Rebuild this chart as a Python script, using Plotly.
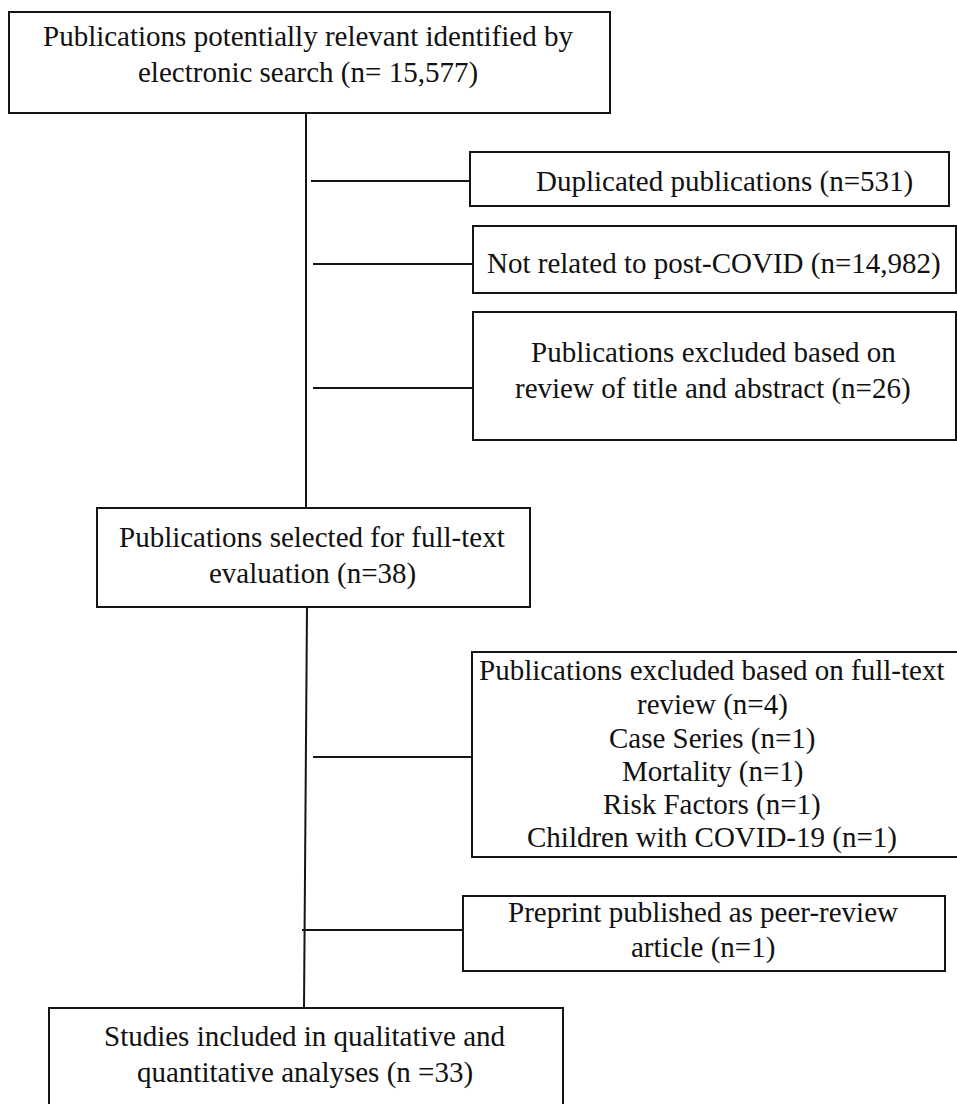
import plotly.graph_objects as go

# ---- data: flowchart content ----
stage_names = [
    "Publications potentially relevant identified by|electronic search",
    "Duplicated publications",
    "Not related to post-COVID",
    "Publications excluded based on|review of title and abstract",
    "Publications selected for full-text|evaluation",
    "Publications excluded based on full-text|review",
    "Preprint published as peer-review|article",
    "Studies included in qualitative and|quantitative analyses",
]
stage_counts = ["n= 15,577", "n=531", "n=14,982", "n=26", "n=38", "n=4", "n=1", "n =33"]
fulltext_reasons = ["Case Series", "Mortality", "Risk Factors", "Children with COVID-19"]
fulltext_reason_counts = [1, 1, 1, 1]

# ---- layout (page pixel coordinates) ----
W, H = 957, 1104
boxes = [
    (9, 12, 610, 113),
    (470, 152, 949, 206),
    (473, 226, 956, 293),
    (473, 312, 956, 440),
    (97, 508, 530, 607),
    (472, 652, 975, 857),
    (463, 896, 945, 971),
    (49, 1008, 563, 1120),
]
text_cx = [308, 724, 714, 713, 312, 712, 703, 305]
text_lines_y = [
    [36, 72],
    [181],
    [263],
    [352, 388],
    [537, 573],
    [670, 704, 738, 771, 804, 837],
    [912, 947],
    [1036, 1072],
]
lines = [
    (306, 113, 306, 508),
    (311, 181, 470, 181),
    (313, 264, 473, 264),
    (313, 388, 473, 388),
    (307, 607, 304, 1008),
    (313, 757, 472, 757),
    (302, 930, 463, 930),
]

labels = []
for i, (name, cnt) in enumerate(zip(stage_names, stage_counts)):
    parts = name.split("|")
    parts[-1] = f"{parts[-1]} ({cnt})"
    if i == 5:
        parts += [f"{r} (n={c})" for r, c in zip(fulltext_reasons, fulltext_reason_counts)]
    labels.append(parts)

fig = go.Figure()
fig.add_trace(go.Scatter(x=[0, W], y=[0, H], mode="markers",
                         marker=dict(opacity=0), hoverinfo="skip", showlegend=False))

shapes = []
for (x0, y0, x1, y1) in boxes:
    shapes.append(dict(type="rect", x0=x0, y0=y0, x1=x1, y1=y1,
                       xref="x", yref="y", line=dict(color="#151515", width=2),
                       fillcolor="white", layer="below"))
for (x0, y0, x1, y1) in lines:
    shapes.append(dict(type="line", x0=x0, y0=y0, x1=x1, y1=y1,
                       xref="x", yref="y", line=dict(color="#151515", width=2)))

annotations = []
for cx, ys, parts in zip(text_cx, text_lines_y, labels):
    for y, t in zip(ys, parts):
        annotations.append(dict(x=cx, y=y, xref="x", yref="y", text=t,
                                showarrow=False, align="center",
                                xanchor="center", yanchor="middle",
                                font=dict(family="Liberation Serif, Times New Roman, serif",
                                          size=29, color="#111")))

fig.update_layout(
    width=W, height=H,
    margin=dict(l=0, r=0, t=0, b=0),
    paper_bgcolor="white", plot_bgcolor="white",
    xaxis=dict(range=[0, W], visible=False, fixedrange=True),
    yaxis=dict(range=[H, 0], visible=False, fixedrange=True),
    shapes=shapes, annotations=annotations,
    showlegend=False,
)
fig.write_html(
    "out.html",
    config={"displayModeBar": False},
    post_script="document.body.style.margin='0';document.body.style.padding='0';"
                "document.body.style.overflow='hidden';"
                "document.documentElement.style.overflow='hidden';",
)
